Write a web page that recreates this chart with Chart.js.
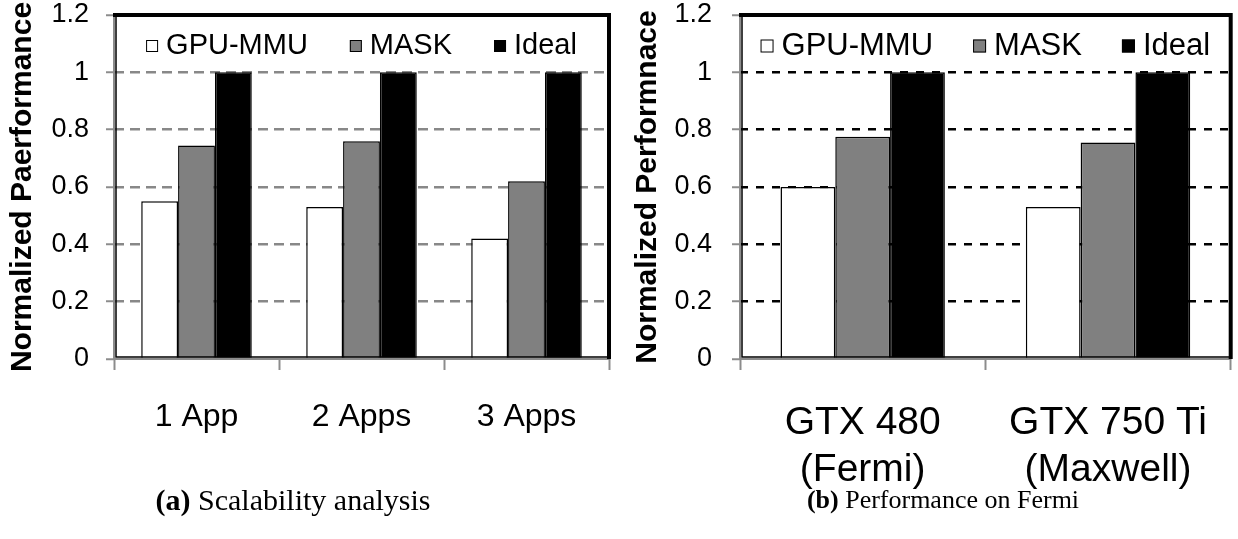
<!DOCTYPE html>
<html>
<head>
<meta charset="utf-8">
<script src="https://cdn.jsdelivr.net/npm/chart.js@4.4.1/dist/chart.umd.min.js"></script>
<style>
  html, body { margin: 0; padding: 0; background: #fff; }
  body { width: 1238px; height: 539px; position: relative; overflow: hidden; }
  .panel { position: absolute; top: 0; height: 539px; }
  .caption {
    position: absolute; top: 484px; line-height: 32px;
    transform: translateX(-50%);
    font-family: "Liberation Serif", "Times New Roman", serif;
    font-size: 30px; color: #000; white-space: nowrap;
  }
</style>
</head>
<body>
<div class="panel" style="left:0;width:625px"><canvas id="scale-chart" width="625" height="539"></canvas></div>
<div class="panel" style="left:620px;width:618px"><canvas id="arch-chart" width="618" height="539"></canvas></div>
<div class="caption" style="left:293px"><b>(a)</b> Scalability analysis</div>
<div class="caption" style="left:943px;font-size:26px"><b>(b)</b> Performance on Fermi</div>

<script>
const seriesNames = ['GPU-MMU', 'MASK', 'Ideal'];
const seriesFills = ['#ffffff', '#808080', '#000000'];

// (a) number of concurrent apps
const appLabels = ['1 App', '2 Apps', '3 Apps'];
const appGpuMmu = [0.55, 0.53, 0.42];
const appMask = [0.745, 0.76, 0.62];
const appIdeal = [1, 1, 1];

// (b) GPU architectures
const gpuLabels = [['GTX 480', '(Fermi)'], ['GTX 750 Ti', '(Maxwell)']];
const gpuGpuMmu = [0.60, 0.53];
const gpuMask = [0.775, 0.755];
const gpuIdeal = [1, 1];

const yMin = 0, yMax = 1.2, yStep = 0.2;

const FONT = '"Liberation Sans", Arial, sans-serif';
const AXIS_GRAY = '#8c8c8c';
const PLOT_TOP = 15;

function makeDatasets(series) {
    return series.map((vals, i) => ({
        label: seriesNames[i],
        data: vals,
        backgroundColor: seriesFills[i],
        borderColor: '#000',
        borderWidth: 1.5,
        categoryPercentage: 0.67,
        barPercentage: 1.0
    }))
}

// gray axes on left/bottom, heavy black edge on top/right
const plotFrame = {
    id: 'plotFrame',
    afterDatasetsDraw(chart) {
        const {ctx, chartArea: a} = chart;
        ctx.save();
        ctx.strokeStyle = AXIS_GRAY;
        ctx.lineWidth = 2;
        ctx.beginPath();
        ctx.moveTo(a.left, a.top);
        ctx.lineTo(a.left, a.bottom);
        ctx.lineTo(a.right, a.bottom);
        ctx.stroke();
        ctx.strokeStyle = '#000';
        ctx.lineWidth = 1.5;
        ctx.beginPath();
        ctx.moveTo(a.left + 2, a.top);
        ctx.lineTo(a.left + 2, a.bottom - 2);
        ctx.lineTo(a.right, a.bottom - 2);
        ctx.stroke();
        ctx.lineWidth = 4;
        ctx.beginPath();
        ctx.moveTo(a.left - 1, a.top);
        ctx.lineTo(a.right, a.top);
        ctx.lineTo(a.right, a.bottom);
        ctx.stroke();
        ctx.restore();
    }
};

// legend row drawn inside the plot, along its top edge
const insideLegend = {
    id: 'insideLegend',
    afterDatasetsDraw(chart, args, opts) {
        const {ctx, chartArea: a} = chart;
        ctx.save();
        ctx.font = `${opts.size}px ${FONT}`;
        ctx.textBaseline = 'middle';
        const items = chart.data.datasets.map(ds => ({
            text: ds.label, fill: ds.backgroundColor, w: ctx.measureText(ds.label).width
        }));
        let total = opts.itemGap * (items.length - 1);
        for (let it of items) total += opts.box + opts.textGap + it.w;
        let x = (a.left + a.right) / 2 - total / 2;
        const y = a.top + opts.offsetY;
        for (let it of items) {
            ctx.fillStyle = it.fill;
            ctx.fillRect(x, y - opts.box / 2, opts.box, opts.box);
            ctx.strokeStyle = '#000';
            ctx.lineWidth = 1;
            ctx.strokeRect(x + 0.5, y - opts.box / 2 + 0.5, opts.box - 1, opts.box - 1);
            x += opts.box + opts.textGap;
            ctx.fillStyle = '#000';
            ctx.fillText(it.text, x, y);
            x += it.w + opts.itemGap;
        }
        ctx.restore();
    }
};

function buildChart(id, cfg) {
    return new Chart(
        document.getElementById(id).getContext('2d'),
        {
            type: 'bar',
            data: {
                labels: cfg.labels,
                datasets: makeDatasets(cfg.series)
            },
            options: {
                responsive: false,
                animation: false,
                layout: {padding: {top: 0, right: cfg.padRight, bottom: 0, left: 0}},
                plugins: {
                    legend: {display: false},
                    tooltip: {enabled: false},
                    insideLegend: cfg.legend
                },
                scales: {
                    y: {
                        min: yMin,
                        max: yMax,
                        ticks: {
                            stepSize: yStep,
                            color: '#000',
                            padding: cfg.tickPad,
                            font: {family: FONT, size: 27, lineHeight: 1},
                            callback: v => String(+v.toFixed(1))
                        },
                        grid: {
                            color: c => (c.tick.value > 0.01 && c.tick.value < 1.19) ? cfg.gridColor : 'rgba(0,0,0,0)',
                            lineWidth: 2.5,
                            tickColor: AXIS_GRAY,
                            tickWidth: 2,
                            tickLength: 8,
                            tickBorderDash: []
                        },
                        border: {display: false, dash: cfg.gridDash},
                        title: {
                            display: true,
                            text: cfg.yTitle,
                            color: '#000',
                            padding: {top: cfg.titlePad, bottom: 0},
                            font: {family: FONT, size: 30, weight: 'bold'}
                        },
                        afterFit: s => {
                            s.width = cfg.yWidth;
                            s.paddingTop = PLOT_TOP;
                            s.paddingBottom = 0;
                        }
                    },
                    x: {
                        ticks: {
                            color: '#000',
                            padding: cfg.xPad,
                            font: {family: FONT, size: cfg.xSize}
                        },
                        grid: {
                            offset: true,
                            drawOnChartArea: false,
                            tickColor: AXIS_GRAY,
                            tickWidth: 2,
                            tickLength: 11
                        },
                        border: {display: false},
                        afterFit: s => { s.height = 180 }
                    }
                }
            },
            plugins: [plotFrame, insideLegend]
        }
    )
}

const scaleChart = buildChart('scale-chart', {
    labels: appLabels,
    series: [appGpuMmu, appMask, appIdeal],
    yTitle: 'Normalized Paerformance',
    yWidth: 114,
    padRight: 16,
    tickPad: 17,
    titlePad: 5,
    xSize: 32,
    xPad: 28,
    gridColor: '#888888',
    gridDash: [10, 6],
    legend: {size: 29, box: 12, textGap: 8, itemGap: 42, offsetY: 31}
});

const archChart = buildChart('arch-chart', {
    labels: gpuLabels,
    series: [gpuGpuMmu, gpuMask, gpuIdeal],
    yTitle: 'Normalized Performnace',
    yWidth: 120,
    padRight: 4,
    tickPad: 20,
    titlePad: 10,
    xSize: 39,
    xPad: 30,
    gridColor: '#000000',
    gridDash: [8, 8],
    legend: {size: 31, box: 13, textGap: 8, itemGap: 40, offsetY: 31}
});
</script>
</body>
</html>
